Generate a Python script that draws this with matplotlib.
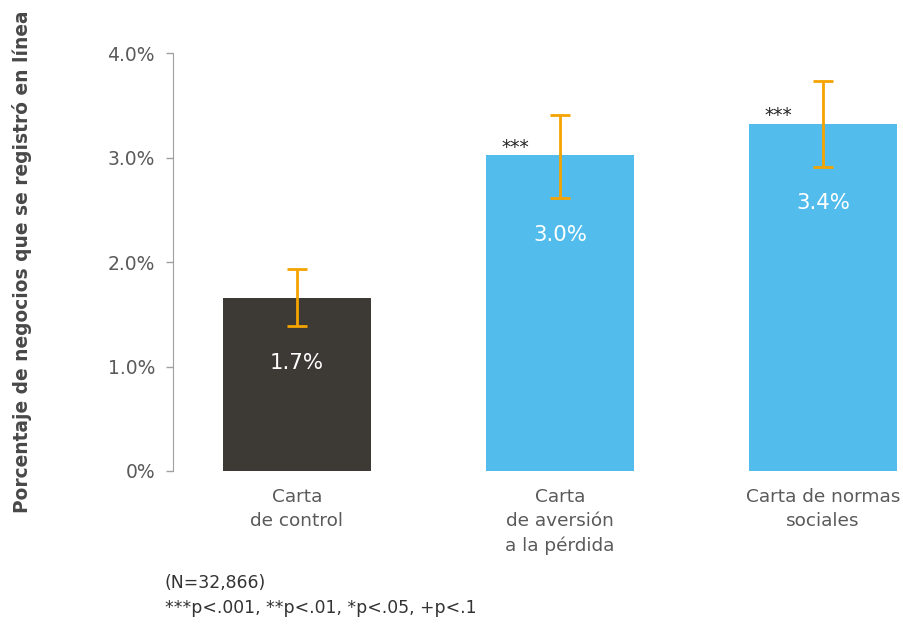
import numpy as np
import matplotlib
matplotlib.use("Agg")
import matplotlib.pyplot as plt
from matplotlib.ticker import FuncFormatter

plt.rcParams["font.family"] = ["DejaVu Sans"]

CATEGORIES = ["Carta\nde control", "Carta\nde aversión\na la pérdida", "Carta de normas\nsociales"]
VALUES = [1.66, 3.02, 3.32]
VALUE_LABELS = ["1.7%", "3.0%", "3.4%"]
CI_LOW = [1.39, 2.61, 2.91]
CI_HIGH = [1.93, 3.41, 3.73]
STARS = ["", "***", "***"]
Y_TICKS = [0, 1, 2, 3, 4]

BAR_COLORS = ["#3d3935", "#52bdec", "#52bdec"]
ERR_COLOR = "#f5a300"
TEXT_GREY = "#5a5a5a"

fig = plt.figure(figsize=(9.04, 6.28), dpi=100)
ax = fig.add_axes([0.1914, 0.25, 0.8086, 0.6656])

x = np.arange(len(CATEGORIES))
values = np.array(VALUES)
err = np.array([values - np.array(CI_LOW), np.array(CI_HIGH) - values])

bars = ax.bar(x, values, width=0.563, color=BAR_COLORS, zorder=2)
ax.errorbar(x, values, yerr=err, fmt="none", ecolor=ERR_COLOR,
            elinewidth=2, capsize=7.5, capthick=2, zorder=3)

# value labels inside bars
label_offsets = [-47, -57, -57]
for xi, v, lab, off in zip(x, values, VALUE_LABELS, label_offsets):
    ax.annotate(lab, (xi, v), xytext=(0, off), textcoords="offset points",
                ha="center", va="center", color="white", fontsize=15.3)

# significance stars
for b, s in zip(bars, STARS):
    if s:
        ax.annotate(s, (b.get_x(), b.get_height()), xytext=(21, -1), textcoords="offset points",
                    ha="center", va="bottom", color="#222222", fontsize=13.5)

ax.set_xlim(-0.471, 2.308)
ax.set_ylim(0, 4)
ax.set_yticks(Y_TICKS)
ax.yaxis.set_major_formatter(FuncFormatter(lambda v, _: "0%" if v == 0 else f"{v:.1f}%"))
ax.set_xticks(x)
ax.set_xticklabels(CATEGORIES, fontsize=13.3, color=TEXT_GREY, linespacing=1.45)
ax.tick_params(axis="x", length=0, pad=12)
ax.tick_params(axis="y", length=5, width=1, color="#a0a0a0", labelsize=13.5,
               labelcolor=TEXT_GREY, pad=8)

for side in ["top", "right", "bottom"]:
    ax.spines[side].set_visible(False)
ax.spines["left"].set_color("#a0a0a0")

fig.text(22 / 904, 1 - 262 / 628, "Porcentaje de negocios que se registró en línea",
         rotation=90, ha="center", va="center", fontsize=13.4, color="#484848", fontweight="bold")

fig.text(165 / 904, 1 - 583 / 628, "(N=32,866)", ha="left", va="center", fontsize=12.4, color="#333333")
fig.text(165 / 904, 1 - 608 / 628, "***p<.001, **p<.01, *p<.05, +p<.1", ha="left", va="center",
         fontsize=12.4, color="#333333")

fig.savefig("out.png", dpi=100)
